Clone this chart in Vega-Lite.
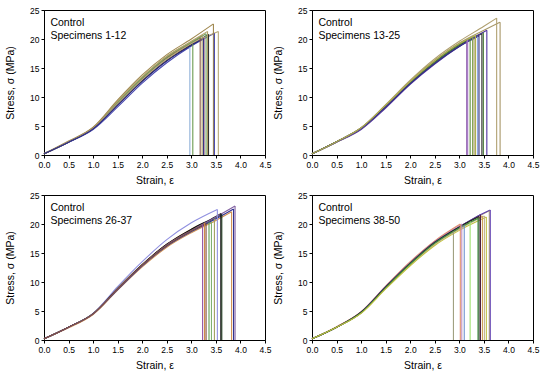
{
"$schema": "https://vega.github.io/schema/vega-lite/v6.json",
"padding": {"left": 5, "top": 5, "right": 5, "bottom": 2},
"background": "white",
"config": {
  "font": "Liberation Sans",
  "view": {"stroke": "#000", "strokeWidth": 1},
  "axis": {"grid": false, "domainColor": "#000", "tickColor": "#000", "labelColor": "#000", "titleColor": "#000", "tickSize": 3, "labelPadding": 2, "labelFontSize": 8.5, "titleFontSize": 10.5, "titleFontWeight": "normal", "labelFont": "Liberation Sans", "titleFont": "Liberation Sans", "labelFlush": false},
  "axisX": {"titlePadding": 7},
  "axisY": {"titlePadding": 14}
},
"datasets": {
"curves": [
{"s":1,"x":0,"y":0.2},{"s":1,"x":0.5,"y":2.3},{"s":1,"x":1,"y":4.6},{"s":1,"x":1.5,"y":8.9},{"s":1,"x":2,"y":13.0},{"s":1,"x":2.5,"y":16.5},{"s":1,"x":2.97,"y":18.6},
{"s":2,"x":0,"y":0.2},{"s":2,"x":0.5,"y":2.3},{"s":2,"x":1,"y":4.6},{"s":2,"x":1.5,"y":9.0},{"s":2,"x":2,"y":13.2},{"s":2,"x":2.5,"y":16.7},{"s":2,"x":3.03,"y":19.1},
{"s":3,"x":0,"y":0.2},{"s":3,"x":0.5,"y":2.3},{"s":3,"x":1,"y":4.6},{"s":3,"x":1.5,"y":9.0},{"s":3,"x":2,"y":13.2},{"s":3,"x":2.5,"y":16.8},{"s":3,"x":3,"y":19.3},{"s":3,"x":3.18,"y":20.2},
{"s":4,"x":0,"y":0.2},{"s":4,"x":0.5,"y":2.3},{"s":4,"x":1,"y":4.7},{"s":4,"x":1.5,"y":9.2},{"s":4,"x":2,"y":13.4},{"s":4,"x":2.5,"y":17.0},{"s":4,"x":3,"y":19.5},{"s":4,"x":3.22,"y":20.6},
{"s":5,"x":0,"y":0.2},{"s":5,"x":0.5,"y":2.3},{"s":5,"x":1,"y":4.6},{"s":5,"x":1.5,"y":8.8},{"s":5,"x":2,"y":12.9},{"s":5,"x":2.5,"y":16.4},{"s":5,"x":3,"y":19.0},{"s":5,"x":3.26,"y":20.2},
{"s":6,"x":0,"y":0.2},{"s":6,"x":0.5,"y":2.3},{"s":6,"x":1,"y":4.6},{"s":6,"x":1.5,"y":9.1},{"s":6,"x":2,"y":13.3},{"s":6,"x":2.5,"y":16.9},{"s":6,"x":3,"y":19.4},{"s":6,"x":3.3,"y":20.9},
{"s":7,"x":0,"y":0.2},{"s":7,"x":0.5,"y":2.3},{"s":7,"x":1,"y":4.7},{"s":7,"x":1.5,"y":9.3},{"s":7,"x":2,"y":13.5},{"s":7,"x":2.5,"y":17.0},{"s":7,"x":3,"y":19.6},{"s":7,"x":3.33,"y":21.3},
{"s":8,"x":0,"y":0.2},{"s":8,"x":0.5,"y":2.2},{"s":8,"x":1,"y":4.5},{"s":8,"x":1.5,"y":8.7},{"s":8,"x":2,"y":12.8},{"s":8,"x":2.5,"y":16.3},{"s":8,"x":3,"y":19.0},{"s":8,"x":3.35,"y":20.8},
{"s":9,"x":0,"y":0.2},{"s":9,"x":0.5,"y":2.4},{"s":9,"x":1,"y":4.8},{"s":9,"x":1.5,"y":9.5},{"s":9,"x":2,"y":13.8},{"s":9,"x":2.5,"y":17.3},{"s":9,"x":3,"y":20.0},{"s":9,"x":3.45,"y":22.6},
{"s":10,"x":0,"y":0.2},{"s":10,"x":0.5,"y":2.2},{"s":10,"x":1,"y":4.4},{"s":10,"x":1.5,"y":8.3},{"s":10,"x":2,"y":12.4},{"s":10,"x":2.5,"y":15.9},{"s":10,"x":3,"y":18.8},{"s":10,"x":3.47,"y":21.0},
{"s":11,"x":0,"y":0.2},{"s":11,"x":0.5,"y":2.3},{"s":11,"x":1,"y":4.6},{"s":11,"x":1.5,"y":8.8},{"s":11,"x":2,"y":13.0},{"s":11,"x":2.5,"y":16.5},{"s":11,"x":3,"y":19.2},{"s":11,"x":3.55,"y":21.3},
{"s":12,"x":0,"y":0.2},{"s":12,"x":0.5,"y":2.2},{"s":12,"x":1,"y":4.5},{"s":12,"x":1.5,"y":8.6},{"s":12,"x":2,"y":12.7},{"s":12,"x":2.5,"y":16.2},{"s":12,"x":3,"y":18.9},{"s":12,"x":3.25,"y":20.1},
{"s":13,"x":0,"y":0.2},{"s":13,"x":0.5,"y":2.3},{"s":13,"x":1,"y":4.6},{"s":13,"x":1.5,"y":8.5},{"s":13,"x":2,"y":12.6},{"s":13,"x":2.5,"y":16.2},{"s":13,"x":3,"y":19.1},{"s":13,"x":3.15,"y":19.7},
{"s":14,"x":0,"y":0.2},{"s":14,"x":0.5,"y":2.3},{"s":14,"x":1,"y":4.7},{"s":14,"x":1.5,"y":8.6},{"s":14,"x":2,"y":12.7},{"s":14,"x":2.5,"y":16.3},{"s":14,"x":3,"y":19.2},{"s":14,"x":3.17,"y":19.9},
{"s":15,"x":0,"y":0.2},{"s":15,"x":0.5,"y":2.3},{"s":15,"x":1,"y":4.6},{"s":15,"x":1.5,"y":8.4},{"s":15,"x":2,"y":12.5},{"s":15,"x":2.5,"y":16.1},{"s":15,"x":3,"y":19.0},{"s":15,"x":3.22,"y":20.0},
{"s":16,"x":0,"y":0.2},{"s":16,"x":0.5,"y":2.3},{"s":16,"x":1,"y":4.6},{"s":16,"x":1.5,"y":8.5},{"s":16,"x":2,"y":12.6},{"s":16,"x":2.5,"y":16.2},{"s":16,"x":3,"y":19.2},{"s":16,"x":3.27,"y":20.4},
{"s":17,"x":0,"y":0.2},{"s":17,"x":0.5,"y":2.2},{"s":17,"x":1,"y":4.5},{"s":17,"x":1.5,"y":8.3},{"s":17,"x":2,"y":12.4},{"s":17,"x":2.5,"y":15.9},{"s":17,"x":3,"y":18.9},{"s":17,"x":3.3,"y":20.2},
{"s":18,"x":0,"y":0.2},{"s":18,"x":0.5,"y":2.3},{"s":18,"x":1,"y":4.6},{"s":18,"x":1.5,"y":8.4},{"s":18,"x":2,"y":12.4},{"s":18,"x":2.5,"y":15.9},{"s":18,"x":3,"y":18.8},{"s":18,"x":3.37,"y":20.4},
{"s":19,"x":0,"y":0.2},{"s":19,"x":0.5,"y":2.3},{"s":19,"x":1,"y":4.6},{"s":19,"x":1.5,"y":8.4},{"s":19,"x":2,"y":12.5},{"s":19,"x":2.5,"y":16.0},{"s":19,"x":3,"y":18.9},{"s":19,"x":3.46,"y":20.9},
{"s":20,"x":0,"y":0.2},{"s":20,"x":0.5,"y":2.3},{"s":20,"x":1,"y":4.6},{"s":20,"x":1.5,"y":8.4},{"s":20,"x":2,"y":12.5},{"s":20,"x":2.5,"y":16.0},{"s":20,"x":3,"y":19.0},{"s":20,"x":3.49,"y":21.1},
{"s":21,"x":0,"y":0.2},{"s":21,"x":0.5,"y":2.2},{"s":21,"x":1,"y":4.4},{"s":21,"x":1.5,"y":8.1},{"s":21,"x":2,"y":12.2},{"s":21,"x":2.5,"y":15.7},{"s":21,"x":3,"y":18.7},{"s":21,"x":3.56,"y":21.5},
{"s":22,"x":0,"y":0.2},{"s":22,"x":0.5,"y":2.3},{"s":22,"x":1,"y":4.7},{"s":22,"x":1.5,"y":8.7},{"s":22,"x":2,"y":12.9},{"s":22,"x":2.5,"y":16.6},{"s":22,"x":3,"y":19.6},{"s":22,"x":3.5,"y":22.2},{"s":22,"x":3.76,"y":23.6},
{"s":23,"x":0,"y":0.2},{"s":23,"x":0.5,"y":2.3},{"s":23,"x":1,"y":4.6},{"s":23,"x":1.5,"y":8.5},{"s":23,"x":2,"y":12.7},{"s":23,"x":2.5,"y":16.3},{"s":23,"x":3,"y":19.3},{"s":23,"x":3.5,"y":21.5},{"s":23,"x":3.83,"y":22.9},
{"s":24,"x":0,"y":0.2},{"s":24,"x":0.5,"y":2.3},{"s":24,"x":1,"y":4.6},{"s":24,"x":1.5,"y":8.3},{"s":24,"x":2,"y":12.3},{"s":24,"x":2.5,"y":15.8},{"s":24,"x":3,"y":18.7},{"s":24,"x":3.4,"y":20.5},
{"s":25,"x":0,"y":0.2},{"s":25,"x":0.5,"y":2.3},{"s":25,"x":1,"y":4.7},{"s":25,"x":1.5,"y":8.6},{"s":25,"x":2,"y":12.7},{"s":25,"x":2.5,"y":16.3},{"s":25,"x":3,"y":19.2},{"s":25,"x":3.33,"y":20.6},
{"s":26,"x":0,"y":0.2},{"s":26,"x":0.5,"y":2.2},{"s":26,"x":1,"y":4.5},{"s":26,"x":1.5,"y":8.8},{"s":26,"x":2,"y":12.9},{"s":26,"x":2.5,"y":16.4},{"s":26,"x":3,"y":18.9},{"s":26,"x":3.23,"y":19.9},
{"s":27,"x":0,"y":0.2},{"s":27,"x":0.5,"y":2.2},{"s":27,"x":1,"y":4.5},{"s":27,"x":1.5,"y":8.9},{"s":27,"x":2,"y":13.0},{"s":27,"x":2.5,"y":16.5},{"s":27,"x":3,"y":19.1},{"s":27,"x":3.27,"y":20.2},
{"s":28,"x":0,"y":0.2},{"s":28,"x":0.5,"y":2.2},{"s":28,"x":1,"y":4.5},{"s":28,"x":1.5,"y":8.8},{"s":28,"x":2,"y":12.9},{"s":28,"x":2.5,"y":16.3},{"s":28,"x":3,"y":18.8},{"s":28,"x":3.36,"y":20.3},
{"s":29,"x":0,"y":0.2},{"s":29,"x":0.5,"y":2.2},{"s":29,"x":1,"y":4.5},{"s":29,"x":1.5,"y":8.7},{"s":29,"x":2,"y":12.8},{"s":29,"x":2.5,"y":16.2},{"s":29,"x":3,"y":18.7},{"s":29,"x":3.41,"y":20.4},
{"s":30,"x":0,"y":0.2},{"s":30,"x":0.5,"y":2.2},{"s":30,"x":1,"y":4.6},{"s":30,"x":1.5,"y":8.9},{"s":30,"x":2,"y":13.0},{"s":30,"x":2.5,"y":16.4},{"s":30,"x":3,"y":19.0},{"s":30,"x":3.47,"y":20.9},
{"s":31,"x":0,"y":0.2},{"s":31,"x":0.5,"y":2.2},{"s":31,"x":1,"y":4.6},{"s":31,"x":1.5,"y":9.2},{"s":31,"x":2,"y":13.5},{"s":31,"x":2.5,"y":17.3},{"s":31,"x":3,"y":20.2},{"s":31,"x":3.53,"y":22.5},
{"s":32,"x":0,"y":0.2},{"s":32,"x":0.5,"y":2.2},{"s":32,"x":1,"y":4.5},{"s":32,"x":1.5,"y":8.8},{"s":32,"x":2,"y":12.9},{"s":32,"x":2.5,"y":16.4},{"s":32,"x":3,"y":18.9},{"s":32,"x":3.5,"y":21.1},{"s":32,"x":3.62,"y":21.7},
{"s":33,"x":0,"y":0.2},{"s":33,"x":0.5,"y":2.2},{"s":33,"x":1,"y":4.5},{"s":33,"x":1.5,"y":8.9},{"s":33,"x":2,"y":13.0},{"s":33,"x":2.5,"y":16.5},{"s":33,"x":3,"y":19.1},{"s":33,"x":3.5,"y":21.3},{"s":33,"x":3.6,"y":21.8},
{"s":34,"x":0,"y":0.2},{"s":34,"x":0.5,"y":2.1},{"s":34,"x":1,"y":4.4},{"s":34,"x":1.5,"y":8.6},{"s":34,"x":2,"y":12.6},{"s":34,"x":2.5,"y":16.0},{"s":34,"x":3,"y":18.5},{"s":34,"x":3.5,"y":20.6},{"s":34,"x":3.82,"y":22.1},
{"s":35,"x":0,"y":0.2},{"s":35,"x":0.5,"y":2.2},{"s":35,"x":1,"y":4.5},{"s":35,"x":1.5,"y":8.7},{"s":35,"x":2,"y":12.8},{"s":35,"x":2.5,"y":16.2},{"s":35,"x":3,"y":18.7},{"s":35,"x":3.5,"y":20.9},{"s":35,"x":3.86,"y":22.6},
{"s":36,"x":0,"y":0.2},{"s":36,"x":0.5,"y":2.2},{"s":36,"x":1,"y":4.5},{"s":36,"x":1.5,"y":8.8},{"s":36,"x":2,"y":12.9},{"s":36,"x":2.5,"y":16.4},{"s":36,"x":3,"y":18.9},{"s":36,"x":3.5,"y":21.2},{"s":36,"x":3.89,"y":23.1},
{"s":37,"x":0,"y":0.2},{"s":37,"x":0.5,"y":2.2},{"s":37,"x":1,"y":4.5},{"s":37,"x":1.5,"y":8.8},{"s":37,"x":2,"y":12.9},{"s":37,"x":2.5,"y":16.3},{"s":37,"x":3,"y":18.8},{"s":37,"x":3.3,"y":20.1},
{"s":38,"x":0,"y":0.2},{"s":38,"x":0.5,"y":2.2},{"s":38,"x":1,"y":4.8},{"s":38,"x":1.5,"y":9.1},{"s":38,"x":2,"y":13.2},{"s":38,"x":2.5,"y":16.8},{"s":38,"x":2.88,"y":18.7},
{"s":39,"x":0,"y":0.2},{"s":39,"x":0.5,"y":2.2},{"s":39,"x":1,"y":4.8},{"s":39,"x":1.5,"y":9.2},{"s":39,"x":2,"y":13.4},{"s":39,"x":2.5,"y":17.0},{"s":39,"x":3.05,"y":20.0},
{"s":40,"x":0,"y":0.2},{"s":40,"x":0.5,"y":2.2},{"s":40,"x":1,"y":4.7},{"s":40,"x":1.5,"y":9.0},{"s":40,"x":2,"y":13.1},{"s":40,"x":2.5,"y":16.7},{"s":40,"x":3.1,"y":19.8},
{"s":41,"x":0,"y":0.2},{"s":41,"x":0.5,"y":2.2},{"s":41,"x":1,"y":4.8},{"s":41,"x":1.5,"y":9.1},{"s":41,"x":2,"y":13.2},{"s":41,"x":2.5,"y":16.8},{"s":41,"x":3,"y":19.4},{"s":41,"x":3.22,"y":20.4},
{"s":42,"x":0,"y":0.2},{"s":42,"x":0.5,"y":2.3},{"s":42,"x":1,"y":4.9},{"s":42,"x":1.5,"y":9.3},{"s":42,"x":2,"y":13.5},{"s":42,"x":2.5,"y":17.1},{"s":42,"x":3.02,"y":20.0},
{"s":43,"x":0,"y":0.2},{"s":43,"x":0.5,"y":2.2},{"s":43,"x":1,"y":4.8},{"s":43,"x":1.5,"y":9.1},{"s":43,"x":2,"y":13.2},{"s":43,"x":2.5,"y":16.8},{"s":43,"x":3,"y":19.5},{"s":43,"x":3.43,"y":21.6},
{"s":44,"x":0,"y":0.2},{"s":44,"x":0.5,"y":2.2},{"s":44,"x":1,"y":4.7},{"s":44,"x":1.5,"y":9.0},{"s":44,"x":2,"y":13.1},{"s":44,"x":2.5,"y":16.6},{"s":44,"x":3,"y":19.2},{"s":44,"x":3.47,"y":21.4},
{"s":45,"x":0,"y":0.2},{"s":45,"x":0.5,"y":2.2},{"s":45,"x":1,"y":4.7},{"s":45,"x":1.5,"y":9.0},{"s":45,"x":2,"y":13.0},{"s":45,"x":2.5,"y":16.5},{"s":45,"x":3,"y":19.1},{"s":45,"x":3.51,"y":21.4},
{"s":46,"x":0,"y":0.2},{"s":46,"x":0.5,"y":2.2},{"s":46,"x":1,"y":4.7},{"s":46,"x":1.5,"y":9.0},{"s":46,"x":2,"y":13.1},{"s":46,"x":2.5,"y":16.7},{"s":46,"x":3,"y":19.4},{"s":46,"x":3.5,"y":21.8},{"s":46,"x":3.61,"y":22.3},
{"s":47,"x":0,"y":0.2},{"s":47,"x":0.5,"y":2.2},{"s":47,"x":1,"y":4.8},{"s":47,"x":1.5,"y":9.2},{"s":47,"x":2,"y":13.3},{"s":47,"x":2.5,"y":16.9},{"s":47,"x":3,"y":19.5},{"s":47,"x":3.5,"y":21.9},{"s":47,"x":3.63,"y":22.4},
{"s":48,"x":0,"y":0.2},{"s":48,"x":0.5,"y":2.2},{"s":48,"x":1,"y":4.8},{"s":48,"x":1.5,"y":9.1},{"s":48,"x":2,"y":13.2},{"s":48,"x":2.5,"y":16.8},{"s":48,"x":3,"y":19.5},{"s":48,"x":3.4,"y":21.3},
{"s":49,"x":0,"y":0.2},{"s":49,"x":0.5,"y":2.2},{"s":49,"x":1,"y":4.7},{"s":49,"x":1.5,"y":9.0},{"s":49,"x":2,"y":13.1},{"s":49,"x":2.5,"y":16.7},{"s":49,"x":3,"y":19.3},{"s":49,"x":3.38,"y":21.0},
{"s":50,"x":0,"y":0.2},{"s":50,"x":0.5,"y":2.2},{"s":50,"x":1,"y":4.6},{"s":50,"x":1.5,"y":8.8},{"s":50,"x":2,"y":12.8},{"s":50,"x":2.5,"y":16.3},{"s":50,"x":3,"y":18.9},{"s":50,"x":3.55,"y":21.2}
],
"fail": [
{"s":1,"x":2.97,"y":18.6},{"s":2,"x":3.03,"y":19.1},{"s":3,"x":3.18,"y":20.2},{"s":4,"x":3.22,"y":20.6},{"s":5,"x":3.26,"y":20.2},{"s":6,"x":3.3,"y":20.9},{"s":7,"x":3.33,"y":21.3},{"s":8,"x":3.35,"y":20.8},{"s":9,"x":3.45,"y":22.6},{"s":10,"x":3.47,"y":21.0},{"s":11,"x":3.55,"y":21.3},{"s":12,"x":3.25,"y":20.1},
{"s":13,"x":3.15,"y":19.7},{"s":14,"x":3.17,"y":19.9},{"s":15,"x":3.22,"y":20.0},{"s":16,"x":3.27,"y":20.4},{"s":17,"x":3.3,"y":20.2},{"s":18,"x":3.37,"y":20.4},{"s":19,"x":3.46,"y":20.9},{"s":20,"x":3.49,"y":21.1},{"s":21,"x":3.56,"y":21.5},{"s":22,"x":3.76,"y":23.6},{"s":23,"x":3.83,"y":22.9},{"s":24,"x":3.4,"y":20.5},{"s":25,"x":3.33,"y":20.6},
{"s":26,"x":3.23,"y":19.9},{"s":27,"x":3.27,"y":20.2},{"s":28,"x":3.36,"y":20.3},{"s":29,"x":3.41,"y":20.4},{"s":30,"x":3.47,"y":20.9},{"s":31,"x":3.53,"y":22.5},{"s":32,"x":3.62,"y":21.7},{"s":33,"x":3.6,"y":21.8},{"s":34,"x":3.82,"y":22.1},{"s":35,"x":3.86,"y":22.6},{"s":36,"x":3.89,"y":23.1},{"s":37,"x":3.3,"y":20.1},
{"s":38,"x":2.88,"y":18.7},{"s":39,"x":3.05,"y":20.0},{"s":40,"x":3.1,"y":19.8},{"s":41,"x":3.22,"y":20.4},{"s":42,"x":3.02,"y":20.0},{"s":43,"x":3.43,"y":21.6},{"s":44,"x":3.47,"y":21.4},{"s":45,"x":3.51,"y":21.4},{"s":46,"x":3.61,"y":22.3},{"s":47,"x":3.63,"y":22.4},{"s":48,"x":3.4,"y":21.3},{"s":49,"x":3.38,"y":21.0},{"s":50,"x":3.55,"y":21.2}
]
},
"columns": 2,
"spacing": {"row": 3, "column": 1},
"concat": [
{"width": 221, "height": 145,
 "layer": [
 {"data": {"name": "curves"}, "transform": [{"filter": {"field": "s", "range": [1, 12]}}], "mark": {"type": "line", "interpolate": "monotone", "strokeWidth": 1.1},
  "encoding": {"x": {"field": "x", "type": "quantitative", "scale": {"domain": [0, 4.5], "nice": false}, "axis": {"values": [0,0.5,1,1.5,2,2.5,3,3.5,4,4.5], "format": ".1f"}, "title": "Strain, ε"},
   "y": {"field": "y", "type": "quantitative", "scale": {"domain": [0, 25], "nice": false}, "axis": {"values": [0,5,10,15,20,25]}, "title": "Stress, σ (MPa)"},
   "color": {"field": "s", "type": "nominal", "legend": null, "scale": {"domain": [1,2,3,4,5,6,7,8,9,10,11,12,13,14,15,16,17,18,19,20,21,22,23,24,25,26,27,28,29,30,31,32,33,34,35,36,37,38,39,40,41,42,43,44,45,46,47,48,49,50], "range": ["#8fb0d8","#6a9a50","#8a5a4a","#a89a60","#c08090","#70a060","#b0a068","#303030","#a08850","#4848b0","#b8a878","#2a2a80","#9060b0","#a070c0","#609040","#80a050","#a09860","#90a8e0","#202020","#508040","#5030a0","#b0a070","#a89868","#303080","#b0b050","#9050a0","#d08840","#60a050","#80b070","#a0a060","#9090e0","#204020","#101010","#d09050","#303090","#8060a0","#805040","#a0a080","#c090c0","#7090d0","#a0e070","#e09070","#502040","#d0a050","#c0b090","#b0a078","#6040b0","#202020","#409040","#c0c040"]}}}},
 {"data": {"name": "fail"}, "transform": [{"filter": {"field": "s", "range": [1, 12]}}], "mark": {"type": "rule", "strokeWidth": 1.1},
  "encoding": {"x": {"field": "x", "type": "quantitative", "axis": {"values": [0,0.5,1,1.5,2,2.5,3,3.5,4,4.5], "format": ".1f"}, "title": "Strain, ε"},
   "y": {"field": "y", "type": "quantitative", "axis": {"values": [0,5,10,15,20,25]}, "title": "Stress, σ (MPa)"}, "y2": {"datum": 0}, "color": {"field": "s", "type": "nominal", "legend": null}}},
 {"data": {"values": [{"t": ["Control", "Specimens 1-12"]}]}, "mark": {"type": "text", "align": "left", "baseline": "top", "fontSize": 10.5, "lineHeight": 13, "color": "#000"},
  "encoding": {"x": {"datum": 0.13, "type": "quantitative", "axis": {"values": [0,0.5,1,1.5,2,2.5,3,3.5,4,4.5], "format": ".1f"}, "title": "Strain, ε"},
   "y": {"datum": 23.7, "type": "quantitative", "axis": {"values": [0,5,10,15,20,25]}, "title": "Stress, σ (MPa)"}, "text": {"field": "t"}}}
]},
{"width": 221, "height": 145,
 "layer": [
 {"data": {"name": "curves"}, "transform": [{"filter": {"field": "s", "range": [13, 25]}}], "mark": {"type": "line", "interpolate": "monotone", "strokeWidth": 1.1},
  "encoding": {"x": {"field": "x", "type": "quantitative", "scale": {"domain": [0, 4.5], "nice": false}, "axis": {"values": [0,0.5,1,1.5,2,2.5,3,3.5,4,4.5], "format": ".1f"}, "title": "Strain, ε"},
   "y": {"field": "y", "type": "quantitative", "scale": {"domain": [0, 25], "nice": false}, "axis": {"values": [0,5,10,15,20,25]}, "title": "Stress, σ (MPa)"},
   "color": {"field": "s", "type": "nominal", "legend": null, "scale": {"domain": [1,2,3,4,5,6,7,8,9,10,11,12,13,14,15,16,17,18,19,20,21,22,23,24,25,26,27,28,29,30,31,32,33,34,35,36,37,38,39,40,41,42,43,44,45,46,47,48,49,50], "range": ["#8fb0d8","#6a9a50","#8a5a4a","#a89a60","#c08090","#70a060","#b0a068","#303030","#a08850","#4848b0","#b8a878","#2a2a80","#9060b0","#a070c0","#609040","#80a050","#a09860","#90a8e0","#202020","#508040","#5030a0","#b0a070","#a89868","#303080","#b0b050","#9050a0","#d08840","#60a050","#80b070","#a0a060","#9090e0","#204020","#101010","#d09050","#303090","#8060a0","#805040","#a0a080","#c090c0","#7090d0","#a0e070","#e09070","#502040","#d0a050","#c0b090","#b0a078","#6040b0","#202020","#409040","#c0c040"]}}}},
 {"data": {"name": "fail"}, "transform": [{"filter": {"field": "s", "range": [13, 25]}}], "mark": {"type": "rule", "strokeWidth": 1.1},
  "encoding": {"x": {"field": "x", "type": "quantitative", "axis": {"values": [0,0.5,1,1.5,2,2.5,3,3.5,4,4.5], "format": ".1f"}, "title": "Strain, ε"},
   "y": {"field": "y", "type": "quantitative", "axis": {"values": [0,5,10,15,20,25]}, "title": "Stress, σ (MPa)"}, "y2": {"datum": 0}, "color": {"field": "s", "type": "nominal", "legend": null}}},
 {"data": {"values": [{"t": ["Control", "Specimens 13-25"]}]}, "mark": {"type": "text", "align": "left", "baseline": "top", "fontSize": 10.5, "lineHeight": 13, "color": "#000"},
  "encoding": {"x": {"datum": 0.13, "type": "quantitative", "axis": {"values": [0,0.5,1,1.5,2,2.5,3,3.5,4,4.5], "format": ".1f"}, "title": "Strain, ε"},
   "y": {"datum": 23.7, "type": "quantitative", "axis": {"values": [0,5,10,15,20,25]}, "title": "Stress, σ (MPa)"}, "text": {"field": "t"}}}
]},
{"width": 221, "height": 145,
 "layer": [
 {"data": {"name": "curves"}, "transform": [{"filter": {"field": "s", "range": [26, 37]}}], "mark": {"type": "line", "interpolate": "monotone", "strokeWidth": 1.1},
  "encoding": {"x": {"field": "x", "type": "quantitative", "scale": {"domain": [0, 4.5], "nice": false}, "axis": {"values": [0,0.5,1,1.5,2,2.5,3,3.5,4,4.5], "format": ".1f"}, "title": "Strain, ε"},
   "y": {"field": "y", "type": "quantitative", "scale": {"domain": [0, 25], "nice": false}, "axis": {"values": [0,5,10,15,20,25]}, "title": "Stress, σ (MPa)"},
   "color": {"field": "s", "type": "nominal", "legend": null, "scale": {"domain": [1,2,3,4,5,6,7,8,9,10,11,12,13,14,15,16,17,18,19,20,21,22,23,24,25,26,27,28,29,30,31,32,33,34,35,36,37,38,39,40,41,42,43,44,45,46,47,48,49,50], "range": ["#8fb0d8","#6a9a50","#8a5a4a","#a89a60","#c08090","#70a060","#b0a068","#303030","#a08850","#4848b0","#b8a878","#2a2a80","#9060b0","#a070c0","#609040","#80a050","#a09860","#90a8e0","#202020","#508040","#5030a0","#b0a070","#a89868","#303080","#b0b050","#9050a0","#d08840","#60a050","#80b070","#a0a060","#9090e0","#204020","#101010","#d09050","#303090","#8060a0","#805040","#a0a080","#c090c0","#7090d0","#a0e070","#e09070","#502040","#d0a050","#c0b090","#b0a078","#6040b0","#202020","#409040","#c0c040"]}}}},
 {"data": {"name": "fail"}, "transform": [{"filter": {"field": "s", "range": [26, 37]}}], "mark": {"type": "rule", "strokeWidth": 1.1},
  "encoding": {"x": {"field": "x", "type": "quantitative", "axis": {"values": [0,0.5,1,1.5,2,2.5,3,3.5,4,4.5], "format": ".1f"}, "title": "Strain, ε"},
   "y": {"field": "y", "type": "quantitative", "axis": {"values": [0,5,10,15,20,25]}, "title": "Stress, σ (MPa)"}, "y2": {"datum": 0}, "color": {"field": "s", "type": "nominal", "legend": null}}},
 {"data": {"values": [{"t": ["Control", "Specimens 26-37"]}]}, "mark": {"type": "text", "align": "left", "baseline": "top", "fontSize": 10.5, "lineHeight": 13, "color": "#000"},
  "encoding": {"x": {"datum": 0.13, "type": "quantitative", "axis": {"values": [0,0.5,1,1.5,2,2.5,3,3.5,4,4.5], "format": ".1f"}, "title": "Strain, ε"},
   "y": {"datum": 23.7, "type": "quantitative", "axis": {"values": [0,5,10,15,20,25]}, "title": "Stress, σ (MPa)"}, "text": {"field": "t"}}}
]},
{"width": 221, "height": 145,
 "layer": [
 {"data": {"name": "curves"}, "transform": [{"filter": {"field": "s", "range": [38, 50]}}], "mark": {"type": "line", "interpolate": "monotone", "strokeWidth": 1.1},
  "encoding": {"x": {"field": "x", "type": "quantitative", "scale": {"domain": [0, 4.5], "nice": false}, "axis": {"values": [0,0.5,1,1.5,2,2.5,3,3.5,4,4.5], "format": ".1f"}, "title": "Strain, ε"},
   "y": {"field": "y", "type": "quantitative", "scale": {"domain": [0, 25], "nice": false}, "axis": {"values": [0,5,10,15,20,25]}, "title": "Stress, σ (MPa)"},
   "color": {"field": "s", "type": "nominal", "legend": null, "scale": {"domain": [1,2,3,4,5,6,7,8,9,10,11,12,13,14,15,16,17,18,19,20,21,22,23,24,25,26,27,28,29,30,31,32,33,34,35,36,37,38,39,40,41,42,43,44,45,46,47,48,49,50], "range": ["#8fb0d8","#6a9a50","#8a5a4a","#a89a60","#c08090","#70a060","#b0a068","#303030","#a08850","#4848b0","#b8a878","#2a2a80","#9060b0","#a070c0","#609040","#80a050","#a09860","#90a8e0","#202020","#508040","#5030a0","#b0a070","#a89868","#303080","#b0b050","#9050a0","#d08840","#60a050","#80b070","#a0a060","#9090e0","#204020","#101010","#d09050","#303090","#8060a0","#805040","#a0a080","#c090c0","#7090d0","#a0e070","#e09070","#502040","#d0a050","#c0b090","#b0a078","#6040b0","#202020","#409040","#c0c040"]}}}},
 {"data": {"name": "fail"}, "transform": [{"filter": {"field": "s", "range": [38, 50]}}], "mark": {"type": "rule", "strokeWidth": 1.1},
  "encoding": {"x": {"field": "x", "type": "quantitative", "axis": {"values": [0,0.5,1,1.5,2,2.5,3,3.5,4,4.5], "format": ".1f"}, "title": "Strain, ε"},
   "y": {"field": "y", "type": "quantitative", "axis": {"values": [0,5,10,15,20,25]}, "title": "Stress, σ (MPa)"}, "y2": {"datum": 0}, "color": {"field": "s", "type": "nominal", "legend": null}}},
 {"data": {"values": [{"t": ["Control", "Specimens 38-50"]}]}, "mark": {"type": "text", "align": "left", "baseline": "top", "fontSize": 10.5, "lineHeight": 13, "color": "#000"},
  "encoding": {"x": {"datum": 0.13, "type": "quantitative", "axis": {"values": [0,0.5,1,1.5,2,2.5,3,3.5,4,4.5], "format": ".1f"}, "title": "Strain, ε"},
   "y": {"datum": 23.7, "type": "quantitative", "axis": {"values": [0,5,10,15,20,25]}, "title": "Stress, σ (MPa)"}, "text": {"field": "t"}}}
]}
]
}
